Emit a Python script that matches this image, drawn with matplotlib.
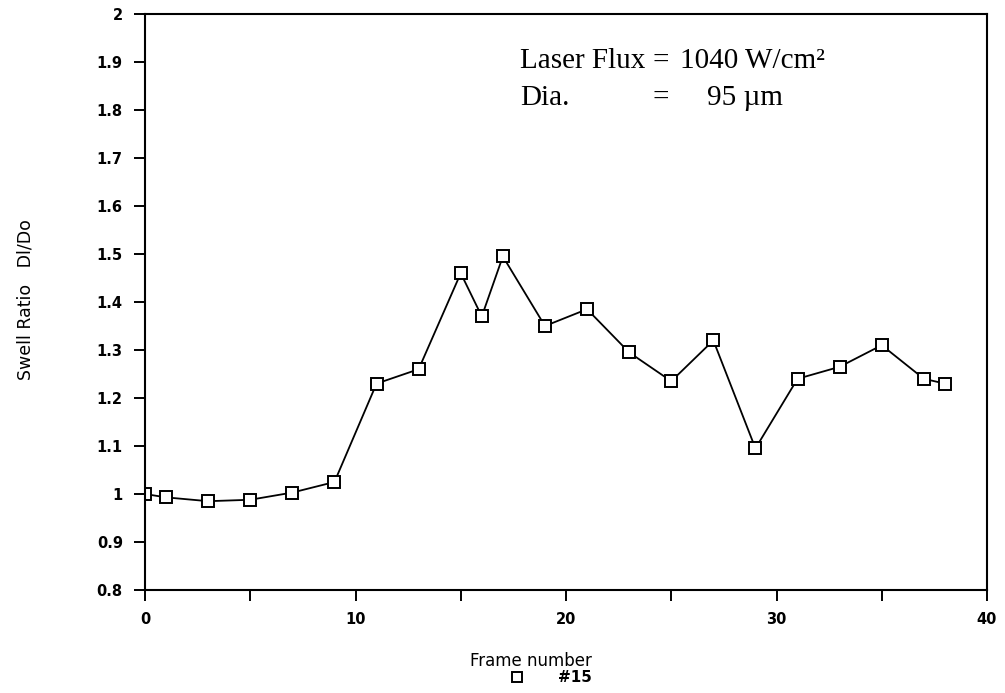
import numpy as np
import matplotlib
matplotlib.use("Agg")
import matplotlib.pyplot as plt
from matplotlib.lines import Line2D

# swell ratio vs frame number (run #15)
frame = [0, 1, 3, 5, 7, 9, 11, 13, 15, 16, 17, 19, 21, 23, 25, 27, 29, 31, 33, 35, 37, 38]
swell = [1.0, 0.993, 0.985, 0.988, 1.003, 1.025, 1.23, 1.26, 1.46, 1.37, 1.495,
         1.35, 1.385, 1.295, 1.235, 1.32, 1.095, 1.24, 1.265, 1.31, 1.24, 1.23]

yticks = [0.8, 0.9, 1, 1.1, 1.2, 1.3, 1.4, 1.5, 1.6, 1.7, 1.8, 1.9, 2]
ytick_labels = ["0.8", "0.9", "1", "1.1", "1.2", "1.3", "1.4", "1.5", "1.6", "1.7", "1.8", "1.9", "2"]
xticks = [0, 5, 10, 15, 20, 25, 30, 35, 40]
xtick_labels = ["0", "", "10", "", "20", "", "30", "", "40"]

W, H = 1005, 693
fig = plt.figure(figsize=(W / 100, H / 100), dpi=100)
ax = fig.add_axes([145 / W, 1 - 590 / H, 842 / W, 576 / H])

ax.plot(frame, swell, color="black", lw=1.3, marker="s", ms=8,
        mfc="white", mec="black", mew=1.4)

ax.set_xlim(0, 40)
ax.set_ylim(0.8, 2)
ax.set_xticks(xticks)
ax.set_xticklabels(xtick_labels)
ax.set_yticks(yticks)
ax.set_yticklabels(ytick_labels)
ax.tick_params(direction="out", length=8, width=1.4, labelsize=10.5, pad=8)
for lab in ax.get_xticklabels() + ax.get_yticklabels():
    lab.set_fontweight("bold")
for sp in ax.spines.values():
    sp.set_linewidth(1.5)

ax.set_xlabel("Frame number", fontsize=12)
ax.xaxis.set_label_coords(0.458, -0.123)
ax.xaxis.label.set_va("center")
ax.set_ylabel("Swell Ratio   Dl/Do", fontsize=12.5)
ax.yaxis.set_label_coords(-0.1425, 0.505)
ax.yaxis.label.set_va("center")

# flux / diameter annotation, pixel positions of each piece
def ptext(x, y, s):
    fig.text(x / W, 1 - y / H, s, family="Liberation Serif", fontsize=21,
             va="baseline", ha="left")

ptext(520, 68, "Laser Flux")
ptext(652, 68, "=")
ptext(680, 68, "1040 W/cm\u00b2")
ptext(520, 105, "Dia.")
ptext(652, 105, "=")
ptext(707, 105, "95 \u00b5m")

# legend entry under the x label
leg = fig.legend(handles=[Line2D([], [], ls="none", marker="s", ms=7, mfc="white",
                                 mec="black", mew=1.4)],
                 labels=["#15"], loc="center left",
                 bbox_to_anchor=(509 / W, 1 - 678 / H),
                 frameon=False, borderpad=0, borderaxespad=0,
                 handlelength=1.0, handletextpad=2.2,
                 prop={"size": 11, "weight": "bold"})

fig.savefig("out.png", dpi=100)
